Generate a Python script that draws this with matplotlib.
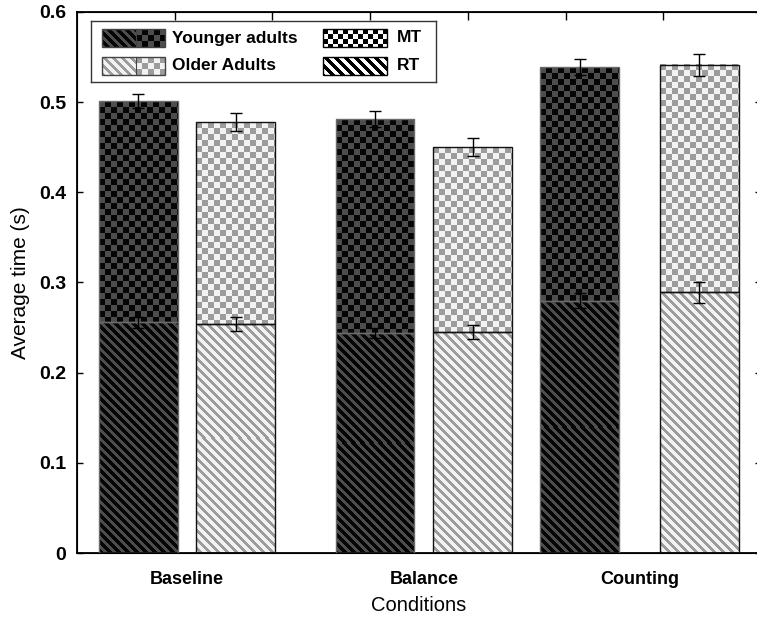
import numpy as np
import matplotlib
matplotlib.use('Agg')
import matplotlib.pyplot as plt
from matplotlib.colors import to_rgb

plt.rcParams['font.family'] = ['Liberation Sans', 'DejaVu Sans']

# data
conditions = ['Baseline', 'Balance', 'Counting']
young_rt = [0.256, 0.244, 0.280]
young_total = [0.501, 0.481, 0.539]
young_rt_err = [0.006, 0.006, 0.008]
young_total_err = [0.008, 0.009, 0.009]
old_rt = [0.254, 0.245, 0.289]
old_total = [0.478, 0.450, 0.541]
old_rt_err = [0.008, 0.008, 0.012]
old_total_err = [0.010, 0.010, 0.012]

# group / bar positions along x (groups are not evenly spaced in the original)
group_x = [0.0, 1.017, 1.940]
young_x = [-0.205, 0.808, 1.684]
old_x = [0.211, 1.226, 2.196]

W, H = 757, 619
fig = plt.figure(figsize=(W / 100, H / 100), dpi=100)


def px_box(l, t, r, b):
    return [l / W, 1 - b / H, (r - l) / W, (b - t) / H]


def pattern(kind, w, h, bg, fg, cell=6, period=9, width=4):
    yy, xx = np.mgrid[0:h, 0:w]
    if kind == 'checker':
        m = ((xx // cell) + (yy // cell)) % 2 == 0
    else:
        m = ((xx - yy) % period) < width
    img = np.empty((h, w, 3))
    img[:] = to_rgb(bg)
    img[m] = to_rgb(fg)
    return img


ax = fig.add_axes(px_box(77, 12, 761, 553))
bw = 0.338
xlim = (-0.468, 2.461)
ylim = (0, 0.6)
ax.set_xlim(*xlim)
ax.set_ylim(*ylim)

styles = {
    'young': dict(bg='#050505', fg='#4d4d4d', edge='#6a6a6a'),
    'old': dict(bg='#f2f2f2', fg='#9c9c9c', edge='#111111'),
}


def pattern_bar(xc, y0, y1, kind, st):
    p = ax.transData.transform([[xc - bw / 2, y0], [xc + bw / 2, y1]])
    w = max(int(round(p[1, 0] - p[0, 0])), 1)
    h = max(int(round(p[1, 1] - p[0, 1])), 1)
    img = pattern(kind, w, h, st['bg'], st['fg'])
    ax.imshow(img, extent=[xc - bw / 2, xc + bw / 2, y0, y1], origin='upper',
              aspect='auto', interpolation='nearest', zorder=2)


for key, xs, rt, tot in [('young', young_x, young_rt, young_total),
                         ('old', old_x, old_rt, old_total)]:
    st = styles[key]
    mt = np.array(tot) - np.array(rt)
    for xi, r, t in zip(xs, rt, tot):
        pattern_bar(xi, 0, r, 'stripes', st)
        pattern_bar(xi, r, t, 'checker', st)
    ax.bar(xs, rt, bw, facecolor='none', edgecolor=st['edge'], lw=1, zorder=3)
    ax.bar(xs, mt, bw, bottom=rt, facecolor='none', edgecolor=st['edge'], lw=1, zorder=3)

ekw = dict(fmt='none', ecolor='black', elinewidth=1, capsize=4, capthick=1, zorder=4)
ax.errorbar(young_x, young_rt, yerr=young_rt_err, **ekw)
ax.errorbar(young_x, young_total, yerr=young_total_err, **ekw)
ax.errorbar(old_x, old_rt, yerr=old_rt_err, **ekw)
ax.errorbar(old_x, old_total, yerr=old_total_err, **ekw)

ax.set_xlim(*xlim)
ax.set_ylim(*ylim)
ax.set_xticks(group_x)
ax.set_xticklabels(conditions, fontsize=13, fontweight='bold')
ax.set_yticks(np.arange(0, 0.61, 0.1))
ax.set_yticklabels(['0', '0.1', '0.2', '0.3', '0.4', '0.5', '0.6'],
                   fontsize=14, fontweight='bold')
ax.tick_params(axis='x', length=0, pad=13)
ax.tick_params(axis='y', direction='in', length=4, width=1, pad=8,
               right=True)
ax.set_xlabel('Conditions', fontsize=14.5, labelpad=6)
ax.set_ylabel('Average time (s)', fontsize=15, labelpad=6)
for s in ax.spines.values():
    s.set_linewidth(1.3)

top = ax.twiny()
top.set_xlim(0, 1)
top.set_xticks(np.arange(1, 7) / 7)
top.set_xticklabels([])
top.tick_params(axis='x', direction='in', length=6, width=1)

# legend, drawn by hand in pixel units
lg = fig.add_axes(px_box(91, 21, 436, 82))
lg.set_xlim(0, 345)
lg.set_ylim(61, 0)
lg.set_xticks([])
lg.set_yticks([])
for s in lg.spines.values():
    s.set_linewidth(1)
    s.set_color('#333333')

legend_labels = ['Younger adults', 'Older Adults', 'MT', 'RT']
rows = [(8, 26), (36, 54)]
for (y0, y1), key in zip(rows, ['young', 'old']):
    st = styles[key]
    lg.imshow(pattern('stripes', 34, 18, st['bg'], st['fg']),
              extent=[11, 45, y1, y0], origin='upper', aspect='auto',
              interpolation='nearest')
    lg.imshow(pattern('checker', 29, 18, st['bg'], st['fg']),
              extent=[45, 74, y1, y0], origin='upper', aspect='auto',
              interpolation='nearest')
    lg.add_patch(plt.Rectangle((11, y0), 63, y1 - y0, fill=False,
                               edgecolor='#444444', lw=1))
    lg.plot([45, 45], [y0, y1], color='#444444', lw=0.8)

lg.imshow(pattern('checker', 64, 18, 'white', 'black', cell=5),
          extent=[232, 296, rows[0][1], rows[0][0]], origin='upper',
          aspect='auto', interpolation='nearest')
lg.imshow(pattern('stripes', 64, 18, 'white', 'black', period=10, width=5),
          extent=[232, 296, rows[1][1], rows[1][0]], origin='upper',
          aspect='auto', interpolation='nearest')
for y0, y1 in rows:
    lg.add_patch(plt.Rectangle((232, y0), 64, y1 - y0, fill=False,
                               edgecolor='black', lw=1))

lg.text(81, 17, legend_labels[0], fontsize=12.5, fontweight='bold', va='center')
lg.text(81, 45, legend_labels[1], fontsize=12.5, fontweight='bold', va='center')
lg.text(306, 17, legend_labels[2], fontsize=12.5, fontweight='bold', va='center')
lg.text(306, 45, legend_labels[3], fontsize=12.5, fontweight='bold', va='center')
lg.set_xlim(0, 345)
lg.set_ylim(61, 0)

fig.savefig('out.png', dpi=100)
